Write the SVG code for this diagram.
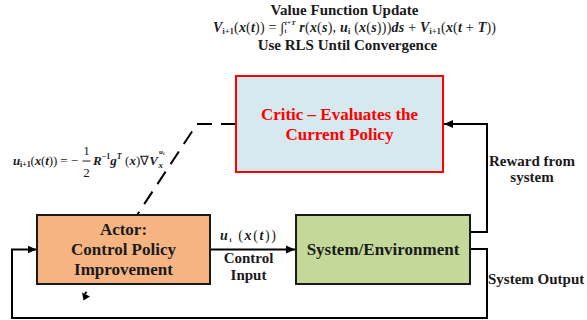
<svg xmlns="http://www.w3.org/2000/svg" width="587" height="320" viewBox="0 0 587 320">
<defs>
<marker id="arr" markerUnits="userSpaceOnUse" markerWidth="10" markerHeight="10" refX="9" refY="5" orient="auto">
<path d="M0,1 L9,5 L0,9 Z" fill="#000"/>
</marker>
<style>
.t{font-family:"Liberation Serif","Times New Roman",serif;font-weight:bold;fill:#1a1a1a}
.bi{font-style:italic;font-weight:bold}
.rg{font-weight:normal}
.ln{fill:none;stroke:#000;stroke-width:2}
.box{stroke:#1a1a1a;stroke-width:2}
</style>
</defs>
<rect width="587" height="320" fill="#fff"/>

<g id="title">
<text class="t" x="344.5" y="15" font-size="15" text-anchor="middle">Value Function Update</text>
<text class="t" x="213" y="32" font-size="14" textLength="283" lengthAdjust="spacing"><tspan class="bi">V</tspan><tspan font-size="8" dy="2">i+1</tspan><tspan dy="-2" class="rg">(</tspan><tspan class="bi">x</tspan><tspan class="rg">(</tspan><tspan class="bi">t</tspan><tspan class="rg">)) = </tspan><tspan class="rg" font-size="14">∫</tspan><tspan font-size="6" dy="1">t</tspan><tspan font-size="7" class="bi" dy="-8" dx="-2">t+T</tspan><tspan dy="7" class="bi"> r</tspan><tspan class="rg">(</tspan><tspan class="bi">x</tspan><tspan class="rg">(</tspan><tspan class="bi">s</tspan><tspan class="rg">), </tspan><tspan class="bi">u</tspan><tspan font-size="8" dy="2">i</tspan><tspan dy="-2" class="rg"> (</tspan><tspan class="bi">x</tspan><tspan class="rg">(</tspan><tspan class="bi">s</tspan><tspan class="rg">)))</tspan><tspan class="bi">ds</tspan><tspan class="rg"> + </tspan><tspan class="bi">V</tspan><tspan font-size="8" dy="2">i+1</tspan><tspan dy="-2" class="rg">(</tspan><tspan class="bi">x</tspan><tspan class="rg">(</tspan><tspan class="bi">t</tspan><tspan class="rg"> + </tspan><tspan class="bi">T</tspan><tspan class="rg">))</tspan></text>
<text class="t" x="347.5" y="50" font-size="15" text-anchor="middle">Use RLS Until Convergence</text>
</g>

<g id="connectors">
<path class="ln" d="M236,124 L197,124 L85,294" stroke-dasharray="15,9"/>
<polygon points="82,292.5 90,296.5 83.5,300.5" fill="#000"/>
<path class="ln" d="M210,249.5 L295,249.5" marker-end="url(#arr)"/>
<path class="ln" d="M470,232 L487,232 L487,124 L444,124" marker-end="url(#arr)"/>
<path class="ln" d="M470,249 L487,249 L487,318 L12,318 L12,249.5 L36.5,249.5" marker-end="url(#arr)"/>
</g>

<g id="critic">
<rect x="236" y="76" width="207" height="96" fill="#D5E9EF" stroke="#FF0000" stroke-width="2"/>
<text class="t" x="339.5" y="120" font-size="17" text-anchor="middle" style="fill:#FF0000">Critic – Evaluates the</text>
<text class="t" x="339.5" y="140" font-size="17" text-anchor="middle" style="fill:#FF0000">Current Policy</text>
</g>

<g id="actor">
<rect class="box" x="37" y="215" width="173" height="69" fill="#F6B482"/>
<text class="t" x="123.5" y="235" font-size="17" text-anchor="middle">Actor:</text>
<text class="t" x="123.5" y="255" font-size="17" text-anchor="middle">Control Policy</text>
<text class="t" x="123.5" y="275" font-size="17" text-anchor="middle">Improvement</text>
</g>

<g id="system">
<rect class="box" x="296" y="215" width="174" height="69" fill="#C4D89A"/>
<text class="t" x="383" y="255" font-size="17" text-anchor="middle">System/Environment</text>
</g>

<g id="labels">
<text class="t" x="220" y="240" font-size="14" textLength="56" lengthAdjust="spacing"><tspan class="bi">u</tspan><tspan font-size="7" dy="2">i</tspan><tspan dy="-2" class="rg"> (</tspan><tspan class="bi">x</tspan><tspan class="rg">(</tspan><tspan class="bi">t</tspan><tspan class="rg">))</tspan></text>
<text class="t" x="248.5" y="263" font-size="15" text-anchor="middle">Control</text>
<text class="t" x="248.5" y="280" font-size="15" text-anchor="middle">Input</text>
<text class="t" x="532" y="166" font-size="15" text-anchor="middle">Reward from</text>
<text class="t" x="532" y="182" font-size="15" text-anchor="middle">system</text>
<text class="t" x="488" y="284" font-size="15">System Output</text>

<text class="t" x="13" y="165" font-size="13" textLength="65" lengthAdjust="spacing"><tspan class="bi">u</tspan><tspan font-size="8" dy="2">i+1</tspan><tspan dy="-2" class="rg">(</tspan><tspan class="bi">x</tspan><tspan class="rg">(</tspan><tspan class="bi">t</tspan><tspan class="rg">)) = −</tspan></text>
<text class="t" x="86.5" y="155" font-size="13" text-anchor="middle" style="font-weight:normal">1</text>
<line x1="82.5" y1="161" x2="90.5" y2="161" stroke="#1a1a1a" stroke-width="1"/>
<text class="t" x="86.5" y="177" font-size="13" text-anchor="middle" style="font-weight:normal">2</text>
<text class="t" x="93" y="165" font-size="13" textLength="65" lengthAdjust="spacing"><tspan class="bi">R</tspan><tspan font-size="8" dy="-6">−1</tspan><tspan dy="6" class="bi">g</tspan><tspan font-size="8" class="bi" dy="-6">T</tspan><tspan dy="6" class="rg"> (</tspan><tspan class="bi">x</tspan><tspan class="rg">)∇</tspan><tspan class="bi">V</tspan></text>
<text class="t bi" x="159" y="154" font-size="7">u<tspan font-size="5" dy="1">i</tspan></text>
<text class="t bi" x="158.5" y="168" font-size="9">x</text>
</g>
</svg>
